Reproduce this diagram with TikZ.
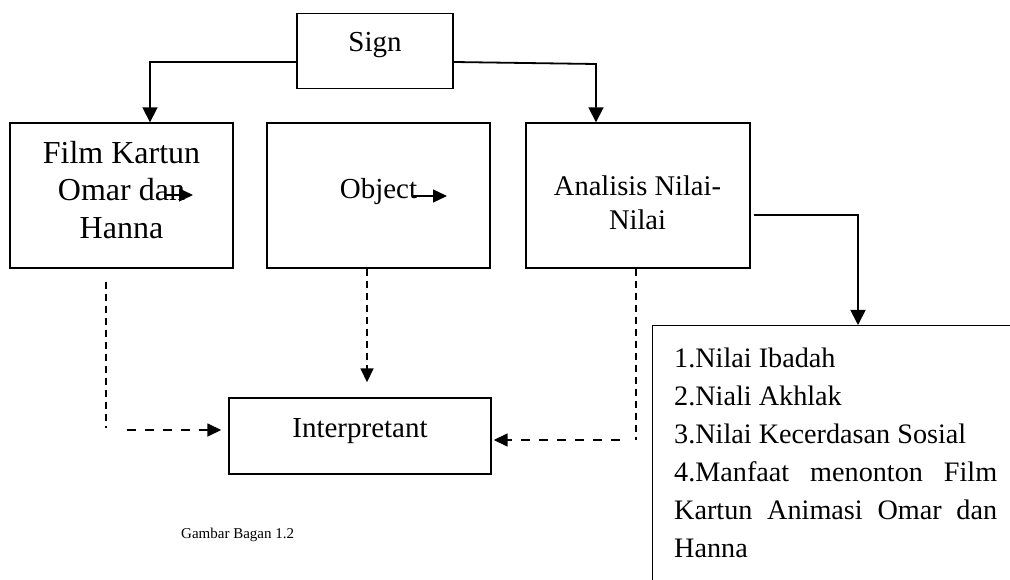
\documentclass[tikz,border=0pt]{standalone}
\usepackage{fontspec}
\setmainfont{Liberation Serif}
\usetikzlibrary{arrows.meta}
\begin{document}
\begin{tikzpicture}[x=1pt,y=-1pt,
  box/.style={draw, line width=1.4pt, inner sep=0pt},
  conn/.style={line width=1.8pt, -{Triangle[length=15pt,width=15pt]}},
  dashv/.style={line width=1.6pt, dash pattern=on 7pt off 5pt},
  dashh/.style={line width=1.6pt, dash pattern=on 9pt off 9pt},
  dtip/.style={-{Triangle[length=14pt,width=13pt]}},
  small/.style={line width=1.3pt, -{Triangle[length=14pt,width=13pt]}},
  lbl/.style={inner sep=0pt}]
\useasboundingbox (0,0) rectangle (1010,580);
\clip (0,0) rectangle (1010,580);

% boxes
\node[box, minimum width=156pt, minimum height=75pt] (sign) at (375,51) {};
\node[box, minimum width=223pt, minimum height=145pt] (film) at (121.5,195.5) {};
\node[box, minimum width=223pt, minimum height=145pt] (object) at (378.5,195.5) {};
\node[box, minimum width=224pt, minimum height=145pt] (analisis) at (638,195.5) {};
\node[box, minimum width=262pt, minimum height=76pt] (interp) at (360,436) {};
\node[box, anchor=north west, minimum width=400pt, minimum height=300pt] (list) at (652,325) {};

% texts
\node[lbl, font=\fontsize{29}{34}\selectfont] (signtext) at (375,45) {Sign};
\node[lbl, align=center, font=\fontsize{32}{37.5}\selectfont] (filmtext) at (121.5,190) {Film Kartun\\Omar dan\\Hanna};
\node[lbl, font=\fontsize{29}{34}\selectfont] (objtext) at (378.5,192) {Object};
\node[lbl, align=center, font=\fontsize{28.5}{34}\selectfont] (antext) at (637.5,203) {Analisis Nilai-\\Nilai};
\node[lbl, font=\fontsize{29}{34}\selectfont] (inttext) at (360,431) {Interpretant};
\node[lbl, anchor=base west] (listtext) at (674,367) {\parbox[t]{323pt}{\fontsize{28.2}{38}\selectfont 1.Nilai Ibadah\\2.Niali Akhlak\\3.Nilai Kecerdasan Sosial\\4.Manfaat menonton Film\linebreak Kartun Animasi Omar dan\linebreak Hanna}};
\node[lbl, anchor=west, font=\fontsize{15}{18}\selectfont] (cap) at (181,535) {Gambar Bagan 1.2};

% solid connectors
\draw[conn] ([yshift=-11pt]sign.west) -| ([xshift=28.5pt]film.north);
\coordinate (rc) at (596,64);
\draw[conn] ([yshift=-11pt]sign.east) -- (rc) -- (rc |- analisis.north);
\coordinate (ac) at (858,215);
\draw[conn] ([xshift=3pt,yshift=-19.5pt]analisis.east) -- (ac) -- (ac |- list.north);

% dashed connectors
\coordinate (fd1) at (106,282);
\coordinate (fd2) at (106,428);
\draw[dashv] (fd1) -- (fd2);
\coordinate (fh) at (127,430);
\draw[dashh, dtip, shorten >=7pt] (fh) -- (fh -| interp.west);
\coordinate (os) at ([xshift=-11.5pt]object.south);
\draw[dashv, dtip, shorten >=15pt] (os) -- (os |- interp.north);
\coordinate (as) at ([xshift=-2pt]analisis.south);
\coordinate (ae) at (636,440);
\draw[dashv] (as) -- (ae);
\coordinate (ah) at (620,440);
\draw[dashh, dtip, shorten >=2pt] (ah) -- (ah -| interp.east);

% small arrows inside boxes
\coordinate (fa1) at (165,195);
\coordinate (fa2) at (193,195);
\draw[small] (fa1) -- (fa2);
\coordinate (oa1) at (413,196);
\coordinate (oa2) at (447,196);
\draw[small] (oa1) -- (oa2);
\end{tikzpicture}
\end{document}
